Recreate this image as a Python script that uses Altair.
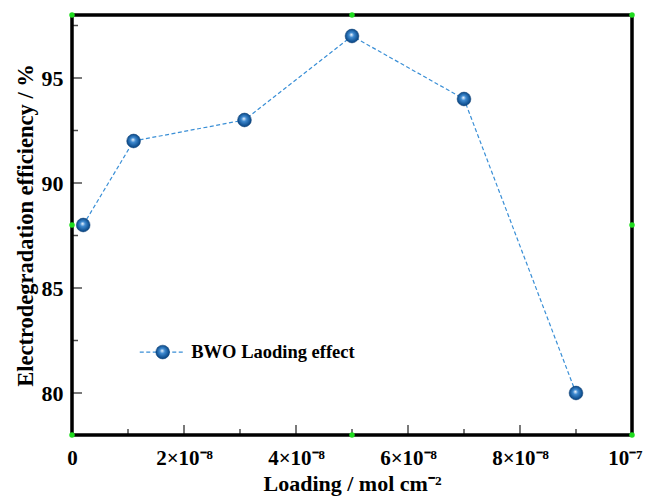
import altair as alt
import pandas as pd

loading = [0.2e-8, 1.1e-8, 3.08e-8, 5e-8, 7e-8, 9e-8]
efficiency = [88, 92, 93, 97, 94, 80]
series_name = "BWO Laoding effect"

x_major = [0, 2e-8, 4e-8, 6e-8, 8e-8, 1e-7]
x_minor = [1e-8, 3e-8, 5e-8, 7e-8, 9e-8]
y_major = [80, 85, 90, 95]
y_minor = [82.5, 87.5, 92.5, 97.5]

handle_x = [0, 5e-8, 1e-7, 0, 1e-7, 0, 5e-8, 1e-7]
handle_y = [98, 98, 98, 88, 88, 78, 78, 78]

legend_x = [1.21e-8, 2.02e-8]
legend_pt = [1.62e-8]
legend_y = 81.95
legend_text_x = 2.13e-8

FONT = "Liberation Serif"
XDOM = [0, 1e-7]
YDOM = [78, 98]

df = pd.DataFrame({"x": loading, "y": efficiency})

xs = alt.Scale(domain=XDOM, nice=False, zero=False)
ys = alt.Scale(domain=YDOM, nice=False, zero=False)

label_expr = ("datum.value == 0 ? '0' : (datum.value > 9.9e-8 ? '10⁻⁷' : "
              "format(round(datum.value / 1e-8), 'd') + '×10⁻⁸')")

x_axis = alt.Axis(values=x_major, labelExpr=label_expr, title="Loading / mol cm⁻²",
                  ticks=False, domain=False, grid=False, labelPadding=12,
                  labelFont=FONT, labelFontWeight="bold", labelFontSize=21, labelColor="black",
                  labelAlign={"condition": {"test": "datum.value > 9.9e-8", "value": "right"},
                              "value": "center"},
                  labelOffset={"condition": {"test": "datum.value > 9.9e-8", "value": 10},
                               "value": 0},
                  titleFont=FONT, titleFontWeight="bold", titleFontSize=22, titleColor="black",
                  titlePadding=5, labelFlush=False, labelBound=False)
y_axis = alt.Axis(values=y_major, title="Electrodegradation efficiency / %",
                  ticks=False, domain=False, grid=False, labelPadding=9,
                  labelFont=FONT, labelFontWeight="bold", labelFontSize=22, labelColor="black",
                  titleFont=FONT, titleFontWeight="bold", titleFontSize=22.5, titleColor="black",
                  titlePadding=4)

gradient = alt.RadialGradient(
    gradient="radial",
    stops=[alt.GradientStop(offset=0, color="#f0f7ff"),
           alt.GradientStop(offset=0.3, color="#3f8ad0"),
           alt.GradientStop(offset=0.75, color="#0f4f8f"),
           alt.GradientStop(offset=1, color="#083a70")],
    x1=0.45, y1=0.4, r1=0, x2=0.5, y2=0.5, r2=0.6)

base = alt.Chart(df)
line = base.mark_line(color="#3a8fd6", strokeWidth=1.2, strokeDash=[4, 2.5]).encode(
    x=alt.X("x:Q", scale=xs, axis=x_axis),
    y=alt.Y("y:Q", scale=ys, axis=y_axis))
pts = base.mark_point(filled=True, fill=gradient, size=190, opacity=1,
                      stroke="#083a70", strokeWidth=0.5).encode(
    x=alt.X("x:Q", scale=xs), y=alt.Y("y:Q", scale=ys))

xmaj = alt.Chart(pd.DataFrame({"x": x_major[1:-1]})).mark_tick(
    color="black", size=10, thickness=1.5, orient="vertical").encode(
    x=alt.X("x:Q", scale=xs), y=alt.value(415))
xmin = alt.Chart(pd.DataFrame({"x": x_minor})).mark_tick(
    color="black", size=6, thickness=1.5, orient="vertical").encode(
    x=alt.X("x:Q", scale=xs), y=alt.value(417))
ymaj = alt.Chart(pd.DataFrame({"y": y_major})).mark_tick(
    color="black", size=10, thickness=1.5, orient="horizontal").encode(
    y=alt.Y("y:Q", scale=ys), x=alt.value(5))
ymin = alt.Chart(pd.DataFrame({"y": y_minor})).mark_tick(
    color="black", size=6, thickness=1.5, orient="horizontal").encode(
    y=alt.Y("y:Q", scale=ys), x=alt.value(3))

handles = alt.Chart(pd.DataFrame({"x": handle_x, "y": handle_y})).mark_circle(
    color="#1fdc1f", size=30, opacity=1, clip=False).encode(
    x=alt.X("x:Q", scale=xs), y=alt.Y("y:Q", scale=ys))

leg_line = alt.Chart(pd.DataFrame({"x": legend_x, "y": [legend_y] * 2})).mark_line(
    color="#3a8fd6", strokeWidth=1.2, strokeDash=[4, 2.5]).encode(
    x=alt.X("x:Q", scale=xs), y=alt.Y("y:Q", scale=ys))
leg_pt = alt.Chart(pd.DataFrame({"x": legend_pt, "y": [legend_y]})).mark_point(
    filled=True, fill=gradient, size=190, opacity=1, stroke="#083a70", strokeWidth=0.5).encode(
    x=alt.X("x:Q", scale=xs), y=alt.Y("y:Q", scale=ys))
leg_txt = alt.Chart(pd.DataFrame({"x": [legend_text_x], "y": [legend_y], "t": [series_name]})).mark_text(
    align="left", baseline="middle", font=FONT, fontWeight="bold", fontSize=18.5, color="black").encode(
    x=alt.X("x:Q", scale=xs), y=alt.Y("y:Q", scale=ys), text="t:N")

chart = alt.layer(line, pts, xmaj, xmin, ymaj, ymin, leg_line, leg_pt, leg_txt, handles).properties(
    width=560, height=420,
    background="white",
    autosize=alt.AutoSizeParams(type="none"),
    padding={"left": 64, "top": 7, "right": 11, "bottom": 61},
).configure_view(stroke="black", strokeWidth=3.5)

chart.save("out.html", embed_options={"renderer": "svg", "actions": False})
